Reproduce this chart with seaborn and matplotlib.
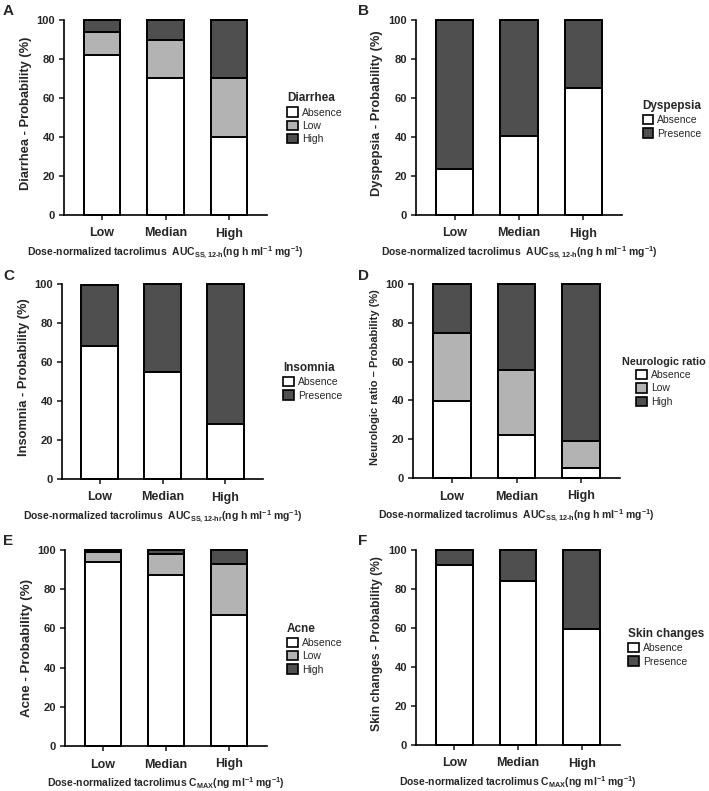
"""Stacked probability bars of adverse events by tacrolimus exposure group."""

import matplotlib.pyplot as plt
import numpy as np
import pandas as pd
import seaborn as sns
from matplotlib.patches import Patch

DOSE_GROUPS = ["Low", "Median", "High"]

# values in % (bottom layer first)
DIARRHEA_ABSENCE = [82, 70.5, 40]
DIARRHEA_LOW = [12, 19, 30.5]
DIARRHEA_HIGH = [6, 10.5, 29.5]

DYSPEPSIA_ABSENCE = [23.5, 40.5, 65]
DYSPEPSIA_PRESENCE = [76.5, 59.5, 35]

INSOMNIA_ABSENCE = [68, 55, 28]
INSOMNIA_PRESENCE = [31.5, 45, 72]

NEURO_ABSENCE = [39.5, 22, 5]
NEURO_LOW = [35.5, 33.5, 14]
NEURO_HIGH = [25, 44.5, 81]

ACNE_ABSENCE = [94, 87.5, 67]
ACNE_LOW = [5, 10.5, 26]
ACNE_HIGH = [1, 2, 7]

SKIN_ABSENCE = [92.5, 84, 59.5]
SKIN_PRESENCE = [7.5, 16, 40.5]

COLORS = {"Absence": "#ffffff", "Low": "#b3b3b3", "High": "#4f4f4f", "Presence": "#4f4f4f"}

AUC_H = r"Dose-normalized tacrolimus  AUC$_{SS,12\text{-}h}$(ng h ml$^{-1}$ mg$^{-1}$)"
AUC_HR = r"Dose-normalized tacrolimus  AUC$_{SS,12\text{-}hr}$(ng h ml$^{-1}$ mg$^{-1}$)"
CMAX = r"Dose-normalized tacrolimus C$_{MAX}$(ng ml$^{-1}$ mg$^{-1}$)"

W, H = 709, 791


def px_axes(fig, x0, x1, y0, y1):
    return fig.add_axes([x0 / W, (H - y1) / H, (x1 - x0) / W, (y1 - y0) / H])


def draw_panel(ax, layers, names, ylabel, ylab_size, xlabel, title, leg_xy,
               leg_align="left", ylab_xy=(-0.16, 0.52), title_size=8.5):
    tops = np.cumsum(np.array(layers, dtype=float), axis=0)
    for i in reversed(range(len(layers))):
        df = pd.DataFrame({"group": DOSE_GROUPS, "value": tops[i]})
        sns.barplot(
            data=df, x="group", y="value", order=DOSE_GROUPS,
            color=COLORS[names[i]], saturation=1, width=0.58,
            edgecolor="black", linewidth=1.4, errorbar=None, ax=ax,
        )
    for p in ax.patches:
        p.set_clip_on(False)

    ax.set_xlim(-0.6, 2.6)
    ax.set_ylim(0, 100)
    ax.set_yticks(range(0, 101, 20))
    sns.despine(ax=ax)
    for s in ("left", "bottom"):
        ax.spines[s].set_linewidth(1.2)
        ax.spines[s].set_color("black")
    ax.tick_params(axis="y", length=3.5, width=1.2, pad=3, labelsize=8)
    ax.tick_params(axis="x", length=3.5, width=1.2, pad=5.5, labelsize=9)
    for t in ax.get_xticklabels() + ax.get_yticklabels():
        t.set_fontweight("bold")

    ax.set_ylabel(ylabel, fontsize=ylab_size, fontweight="bold")
    ax.yaxis.set_label_coords(*ylab_xy)
    ax.set_xlabel(xlabel, fontsize=7.5, fontweight="bold", labelpad=3.5)

    handles = [Patch(facecolor=COLORS[n], edgecolor="black", linewidth=1.2, label=n) for n in names]
    ax.legend(
        handles=handles, title=title, loc="upper left", bbox_to_anchor=leg_xy,
        frameon=False, fontsize=7.5, title_fontproperties={"weight": "bold", "size": title_size},
        handlelength=1.0, handleheight=1.0, handletextpad=0.4, labelspacing=0.3,
        borderpad=0, borderaxespad=0, alignment=leg_align,
    )


def main() -> None:
    sns.set_style("ticks")
    plt.rcParams["font.family"] = ["Liberation Sans", "DejaVu Sans"]
    plt.rcParams["mathtext.fontset"] = "custom"
    plt.rcParams["mathtext.rm"] = "Liberation Sans:bold"
    plt.rcParams["mathtext.bf"] = "Liberation Sans:bold"
    plt.rcParams["mathtext.it"] = "Liberation Sans:bold"
    plt.rcParams["mathtext.default"] = "bf"

    fig = plt.figure(figsize=(W / 100, H / 100), dpi=100)

    ax = px_axes(fig, 64, 267, 20, 215)
    draw_panel(ax, [DIARRHEA_ABSENCE, DIARRHEA_LOW, DIARRHEA_HIGH], ["Absence", "Low", "High"],
               "Diarrhea - Probability (%)", 9.3, AUC_H, "Diarrhea", (1.1, 0.63))

    ax = px_axes(fig, 416, 622, 20, 215)
    draw_panel(ax, [DYSPEPSIA_ABSENCE, DYSPEPSIA_PRESENCE], ["Absence", "Presence"],
               "Dyspepsia - Probability (%)", 9.3, AUC_H, "Dyspepsia", (1.1, 0.59))

    ax = px_axes(fig, 62, 263, 284, 479)
    draw_panel(ax, [INSOMNIA_ABSENCE, INSOMNIA_PRESENCE], ["Absence", "Presence"],
               "Insomnia - Probability (%)", 9.3, AUC_HR, "Insomnia", (1.1, 0.6))

    ax = px_axes(fig, 413, 620, 284, 478)
    draw_panel(ax, [NEURO_ABSENCE, NEURO_LOW, NEURO_HIGH], ["Absence", "Low", "High"],
               "Neurologic ratio \u2013 Probability (%)", 8, AUC_H, "Neurologic ratio", (1.01, 0.625),
               leg_align="center", title_size=7.8)

    ax = px_axes(fig, 65, 267, 550, 746)
    draw_panel(ax, [ACNE_ABSENCE, ACNE_LOW, ACNE_HIGH], ["Absence", "Low", "High"],
               "Acne - Probability (%)", 9.6, CMAX, "Acne", (1.1, 0.63), ylab_xy=(-0.16, 0.5))

    ax = px_axes(fig, 416, 620, 550, 745)
    draw_panel(ax, [SKIN_ABSENCE, SKIN_PRESENCE], ["Absence", "Presence"],
               "Skin changes - Probability (%)", 8.7, CMAX, "Skin changes", (1.04, 0.6))

    for letter, x, y in [("A", 3, 4), ("B", 358, 4), ("C", 3, 269), ("D", 358, 269), ("E", 3, 534), ("F", 358, 534)]:
        fig.text(x / W, 1 - y / H, letter, fontsize=11, fontweight="bold", va="top", ha="left")

    fig.savefig("out.png", dpi=100, facecolor="white")
    plt.close(fig)


if __name__ == "__main__":
    main()
